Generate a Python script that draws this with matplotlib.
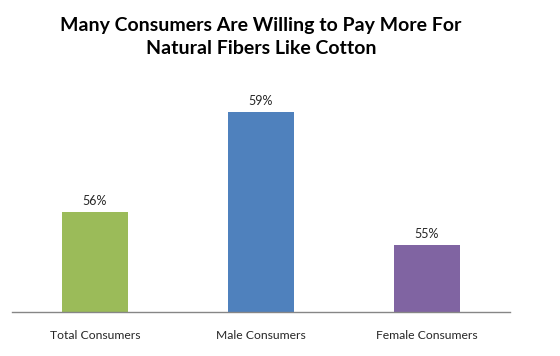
import matplotlib
matplotlib.use("Agg")
import matplotlib.pyplot as plt

categories = ["Total Consumers", "Male Consumers", "Female Consumers"]
values = [56, 59, 55]
colors = ["#9BBB59", "#4F81BD", "#8064A2"]
title = "Many Consumers Are Willing to Pay More For\nNatural Fibers Like Cotton"

plt.rcParams['font.family'] = ['Lato', 'DejaVu Sans']

W, H = 560, 356
fig = plt.figure(figsize=(W/100, H/100), dpi=100)
ax = fig.add_axes([12/W, (H-311.7)/H, (510-12)/W, (311.7-78.5)/H])

x = list(range(len(categories)))
bars = ax.bar(x, [v - 53 for v in values], bottom=53, width=0.4, color=colors)
ax.set_xlim(-0.5, 2.5)
ax.set_ylim(53, 60)
for xi, v in zip(x, values):
    ax.annotate(f"{v}%", (xi, v), xytext=(0, 3.5), textcoords="offset points",
                ha="center", va="bottom", fontsize=9, color="#262626")

ax.set_xticks(x)
ax.set_xticklabels(categories, fontsize=8.7, color="#262626")
ax.tick_params(axis='x', length=0, pad=13)
ax.set_yticks([])
for s in ["top", "right", "left"]:
    ax.spines[s].set_visible(False)
ax.spines["bottom"].set_color("#868686")
ax.spines["bottom"].set_linewidth(1)

fig.text(261/W, 1 - 37/H, title, ha="center", va="center", fontsize=14,
         fontweight="bold", color="black", linespacing=1.5)

fig.savefig("out.png", dpi=100)
